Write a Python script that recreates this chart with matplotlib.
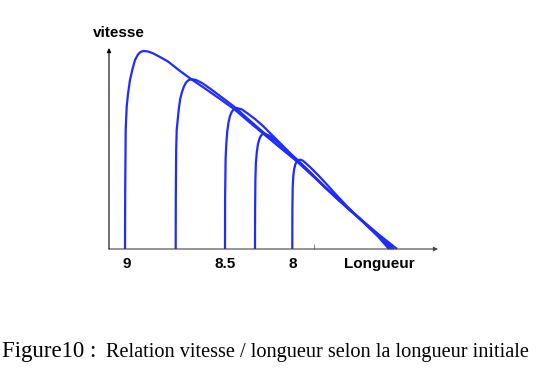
#! /usr/bin/env python

import matplotlib
matplotlib.use("Agg")
import matplotlib.pyplot as plt

# curves: position along the length axis, speed (arbitrary units)
x1 = [125, 125.2, 125.7, 126.7, 128, 130, 132.5, 135, 138, 140.5, 143.3, 148, 153, 160, 168,
      180, 191.7, 205, 220, 234, 248, 263, 280, 297, 315, 333, 350, 365, 380, 394]
v1 = [0, 60, 119, 142.3, 155, 169, 180, 189, 194.5, 197, 198, 197.5, 195.7, 192, 187.5,
      178, 169.5, 160.5, 150, 140, 128, 115.5, 101.5, 87.5, 71, 54.5, 39, 25.5, 12, 0]

x2 = [175.7, 175.8, 176.2, 176.7, 177.7, 178.8, 180.2, 181.7, 183.7, 186, 188.5, 191.7, 196,
      202, 210, 220, 234, 248, 263, 280, 297, 315, 333, 350, 365, 380, 397]
v2 = [0, 50, 100, 119, 129, 140, 150, 156, 162, 166.5, 168.8, 169.8, 169,
      166, 160.5, 153, 142.5, 130, 117, 102, 88, 71.5, 54.5, 38.5, 26, 13.5, 0]

x3 = [225, 225.1, 225.6, 226.3, 227.2, 228.5, 230, 231.8, 234, 236.7, 242, 247, 255, 263, 270,
      280, 290, 297, 310, 325, 340, 350, 365, 380, 392]
v3 = [0, 50, 90, 105, 117, 126.5, 133, 137.2, 140, 141, 139.5, 136, 130, 123, 116,
      106, 96, 89.5, 77, 62, 48, 39.5, 26, 12.5, 0]

x4 = [255, 255.1, 255.4, 255.9, 256.8, 258, 259.5, 261, 262.7, 265, 270, 277, 284, 290, 297,
      310, 325, 340, 350, 365, 380, 391]
v4 = [0, 40, 70, 86, 97, 105, 110.5, 113.5, 115, 115.3, 113, 107.5, 101, 95, 89,
      76.5, 61.5, 47.5, 39, 25.5, 12, 0]

x5 = [292.3, 292.4, 292.7, 293.3, 294.2, 295.3, 296.7, 298.5, 300.5, 303, 310, 318, 326, 335,
      343, 350, 365, 378, 389]
v5 = [0, 40, 62, 73, 80, 84.5, 87.5, 89, 89.3, 88.3, 82, 74, 65.5, 55.5,
      47, 39.5, 25, 12.5, 0]

curves = [(x1, v1), (x2, v2), (x3, v3), (x4, v4), (x5, v5)]

tick_pos = [127, 225, 293, 379]
tick_labels = ["9", "8.5", "8", "Longueur"]
minor_pos = [314]

blue = "#1f2bff"
axis_col = "#444444"

fig = plt.figure(figsize=(5.36, 3.86), dpi=100)
ax = fig.add_axes([109 / 536, 137 / 386, 329 / 536, 201 / 386])

for xs, vs in curves:
    ax.plot(xs, vs, color=blue, lw=1.6, clip_on=False, solid_capstyle="butt",
            solid_joinstyle="round")

ax.set_xlim(109, 438)
ax.set_ylim(0, 201)

for s in ax.spines.values():
    s.set_visible(False)

# axes drawn as arrows
ax.annotate("", xy=(1, 0), xytext=(0, 0), xycoords="axes fraction",
            arrowprops=dict(arrowstyle="-|>", lw=0.8, color=axis_col,
                            mutation_scale=6, shrinkA=0, shrinkB=0))
ax.annotate("", xy=(0, 1), xytext=(0, 0), xycoords="axes fraction",
            arrowprops=dict(arrowstyle="-|>", lw=0.8, color="black",
                            mutation_scale=6, shrinkA=0, shrinkB=0))

ax.set_yticks([])
ax.set_xticks(tick_pos)
ax.set_xticklabels(tick_labels, fontsize=11, fontweight="bold",
                   family="Liberation Sans")
ax.tick_params(axis="x", which="major", length=0, pad=5.5)
ax.set_xticks(minor_pos, minor=True)
ax.tick_params(axis="x", which="minor", direction="in", length=3.5,
               width=0.7, color="#888888")

fig.text(93 / 536, (386 - 36.7) / 386, "vitesse", fontsize=11,
         fontweight="bold", family="Liberation Sans", va="baseline", ha="left")

fig.text(2 / 536, (386 - 357) / 386, "Figure10 :", fontsize=16.5,
         family="Liberation Serif", va="baseline", ha="left")
fig.text(106 / 536, (386 - 357) / 386,
         "Relation vitesse / longueur selon la longueur initiale",
         fontsize=14.6, family="Liberation Serif", va="baseline", ha="left")

fig.savefig("out.png", dpi=100)
